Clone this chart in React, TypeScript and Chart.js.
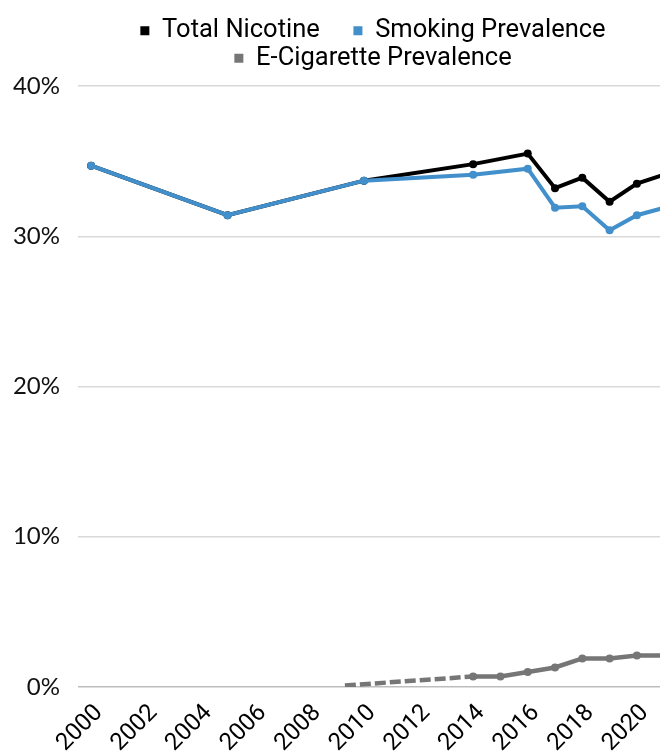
import { useEffect, useRef } from 'react';
import { Chart, registerables } from 'chart.js';

Chart.register(...registerables);

// Data
const mainYears = [2000, 2005, 2010, 2014, 2016, 2017, 2018, 2019, 2020, 2021];
const totalNicotine = [34.7, 31.4, 33.7, 34.8, 35.5, 33.2, 33.9, 32.3, 33.5, 34.1];
const smokingPrevalence = [34.7, 31.4, 33.7, 34.1, 34.5, 31.9, 32.0, 30.4, 31.4, 31.9];
const ecigYears = [2009.3, 2014, 2015, 2016, 2017, 2018, 2019, 2020, 2021];
const ecigPrevalence = [0.1, 0.7, 0.7, 1.0, 1.3, 1.9, 1.9, 2.1, 2.1];
const xTickYears = [2000, 2002, 2004, 2006, 2008, 2010, 2012, 2014, 2016, 2018, 2020];
const yTickValues = [0, 10, 20, 30, 40];

const BLACK = '#000000';
const BLUE = '#418FCB';
const GRAY = '#767676';

const W = 664;
const H = 748;

function toPoints(xs: number[], ys: number[]) {
  return xs.map((x, i) => ({ x, y: ys[i] }));
}

const legendGap = {
  id: 'legendGap',
  beforeLayout(chart: any) {
    const lg = chart.legend;
    if (lg && !lg.__gapPatched) {
      const orig = lg.fit;
      lg.fit = function (this: any) {
        orig.call(this);
        this.height += 5;
      };
      lg.__gapPatched = true;
    }
  },
};

export default function App() {
  const ref = useRef<HTMLCanvasElement>(null);

  useEffect(() => {
    document.body.style.overflow = 'hidden';
    const canvas = ref.current;
    if (!canvas) return;
    const chart = new Chart(canvas, {
      type: 'line',
      data: {
        datasets: [
          {
            label: 'Total Nicotine',
            data: toPoints(mainYears, totalNicotine),
            borderColor: BLACK,
            backgroundColor: BLACK,
            borderWidth: 4,
            pointRadius: 4,
            pointBorderWidth: 0,
            pointBackgroundColor: BLACK,
            order: 1,
          },
          {
            label: 'Smoking Prevalence',
            data: toPoints(mainYears, smokingPrevalence),
            borderColor: BLUE,
            backgroundColor: BLUE,
            borderWidth: 4,
            pointRadius: 4,
            pointBorderWidth: 0,
            pointBackgroundColor: BLUE,
            order: 0,
          },
          {
            label: 'E-Cigarette Prevalence',
            data: toPoints(ecigYears, ecigPrevalence),
            borderColor: GRAY,
            backgroundColor: GRAY,
            borderWidth: 4.5,
            pointRadius: (ctx: any) => (ctx.dataIndex === 0 ? 0 : 4),
            pointBorderWidth: 0,
            pointBackgroundColor: GRAY,
            segment: {
              borderDash: (ctx: any) => (ctx.p0DataIndex === 0 ? [11, 4] : undefined),
            },
            order: 0,
          },
        ],
      },
      options: {
        animation: false,
        responsive: false,
        maintainAspectRatio: false,
        devicePixelRatio: 1,
        layout: { padding: { top: 8, left: 0, right: 0, bottom: 0 } },
        plugins: {
          tooltip: { enabled: false },
          legend: {
            position: 'top',
            align: 'center',
            fullSize: false,
            labels: {
              color: '#000',
              font: { family: 'Roboto', size: 25.5 },
              boxWidth: 9,
              boxHeight: 9,
              padding: 2,
              sort: (a: any, b: any) => a.datasetIndex - b.datasetIndex,
              generateLabels: (c: any) => {
                const items = Chart.defaults.plugins.legend.labels.generateLabels(c);
                items.forEach((it: any) => {
                  it.lineWidth = 0;
                  if (it.datasetIndex === 0) it.text = it.text + '     ';
                });
                return items;
              },
            },
          },
        },
        scales: {
          x: {
            type: 'linear',
            min: 1999.52,
            max: 2021.14,
            grid: { display: false, drawTicks: false },
            border: { display: false },
            afterBuildTicks: (scale: any) => {
              scale.ticks = xTickYears.map((v) => ({ value: v }));
            },
            afterFit: (scale: any) => {
              scale.height = 69;
              scale.paddingLeft = 0;
              scale.paddingRight = 0;
            },
            ticks: {
              autoSkip: false,
              minRotation: 45,
              maxRotation: 45,
              padding: 12,
              labelOffset: 8,
              color: '#000',
              font: { family: 'Roboto', size: 24 },
              callback: (v: any) => String(v),
            },
          },
          y: {
            min: 0,
            max: 40,
            afterBuildTicks: (scale: any) => {
              scale.ticks = yTickValues.map((v) => ({ value: v }));
            },
            afterFit: (scale: any) => {
              scale.width = 70;
            },
            border: { display: false },
            grid: {
              drawTicks: false,
              lineWidth: 1.5,
              color: (ctx: any) => (ctx.tick && ctx.tick.value === 0 ? '#bdbdbd' : '#d9d9d9'),
            },
            ticks: {
              padding: 18,
              color: '#111',
              font: { family: 'Lato', size: 24 },
              callback: (v: any) => v + '%',
            },
          },
        },
      },
      plugins: [legendGap],
    });
    return () => chart.destroy();
  }, []);

  return (
    <div style={{ width: W, height: H }}>
      <canvas ref={ref} width={W} height={H} style={{ display: 'block', width: W, height: H }} />
    </div>
  );
}
